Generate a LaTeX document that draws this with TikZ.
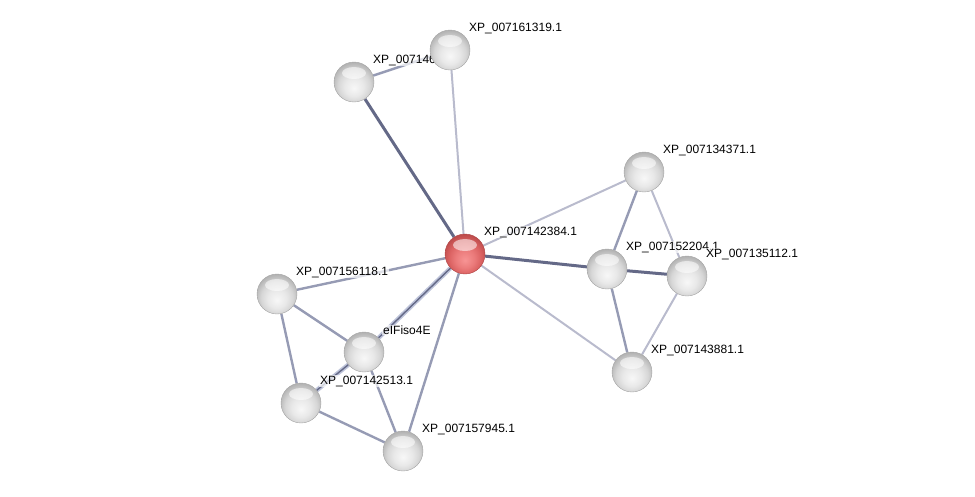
\documentclass[tikz,border=0pt]{standalone}
\usepackage{fontspec}
\setmainfont{Liberation Sans}
\usepackage{xcolor}
\usepackage{tikz}
\usetikzlibrary{backgrounds}
\definecolor{edgedark}{RGB}{100,105,135}
\definecolor{edgemid}{RGB}{150,155,180}
\definecolor{edgelight}{RGB}{185,187,205}
\definecolor{edgepale}{RGB}{190,196,218}
\definecolor{greyrim}{RGB}{165,165,165}
\definecolor{redrim}{RGB}{175,70,70}
\pgfdeclareradialshading{greysphere}{\pgfpoint{0bp}{-8bp}}{color(0bp)=(white!97!black); color(12bp)=(white!91!black); color(20bp)=(white!84!black); color(28bp)=(white!70!black); color(50bp)=(white!70!black)}
\pgfdeclareradialshading{redsphere}{\pgfpoint{0bp}{-8bp}}{color(0bp)=(red!40!white!97!black); color(12bp)=(red!48!white!92!black); color(20bp)=(red!55!white!86!black); color(28bp)=(red!60!white!74!black); color(50bp)=(red!60!white!74!black)}

\begin{document}
\begin{tikzpicture}[x=1pt, y=-1pt,
    ball/.style={circle, minimum size=40pt, inner sep=0pt, shading=greysphere, draw=greyrim, line width=0.4pt,
      path picture={\fill[white, opacity=0.55] (path picture bounding box.center) ++(0,9pt) ellipse (12pt and 6pt);}},
    hub/.style={ball, shading=redsphere, draw=redrim},
    lab/.style={font=\fontsize{12}{14}\selectfont, fill=white, fill opacity=0.7, text opacity=1, inner sep=1pt, anchor=west},
    strong/.style={line width=3pt, draw=edgedark},
    medium/.style={line width=2.4pt, draw=edgemid},
    weak/.style={line width=2pt, draw=edgelight},
    multi/.style={line width=4.5pt, draw=edgepale, postaction={draw=edgedark, line width=1.4pt}}]
  \useasboundingbox (0,0) rectangle (975,496);

  % query protein (red)
  \node[hub] (c) at (465,254) {};
  \node[lab] (c-lab) at (483,232) {XP\_007142384.1};

  % neighbours: name/x/y/label
  \foreach \nm/\xpos/\ypos/\lab in {
      t46/354/82/{XP\_007146},
      t61/450/50/{XP\_007161319.1},
      k71/644/172/{XP\_007134371.1},
      k04/607/269/{XP\_007152204.1},
      k12/687/276/{XP\_007135112.1},
      k81/632/372/{XP\_007143881.1},
      s18/277/294/{XP\_007156118.1},
      eif/364/352/{eIFiso4E},
      s13/301/403/{XP\_007142513.1},
      s45/403/451/{XP\_007157945.1}} {
    \node[ball] (\nm) at (\xpos,\ypos) {};
    \node[lab] (\nm-lab) at (\xpos + 18, \ypos - 22) {\lab};
  }

  % interactions
  \begin{scope}[on background layer]
    \draw[strong] (c) -- (t46);
    \draw[weak] (c) -- (t61);
    \draw[medium] (t46) -- (t61);
    \draw[weak] (c) -- (k71);
    \draw[strong] (c) -- (k04);
    \draw[weak] (c) -- (k81);
    \draw[medium] (c) -- (s18);
    \draw[multi] (c) -- (eif);
    \draw[medium] (c) -- (s45);
    \draw[medium] (s18) -- (eif);
    \draw[medium] (s18) -- (s13);
    \draw[multi] (eif) -- (s13);
    \draw[medium] (eif) -- (s45);
    \draw[medium] (s13) -- (s45);
    \draw[medium] (k71) -- (k04);
    \draw[weak] (k71) -- (k12);
    \draw[strong] (k04) -- (k12);
    \draw[medium] (k04) -- (k81);
    \draw[weak] (k12) -- (k81);
  \end{scope}
\end{tikzpicture}
\end{document}
